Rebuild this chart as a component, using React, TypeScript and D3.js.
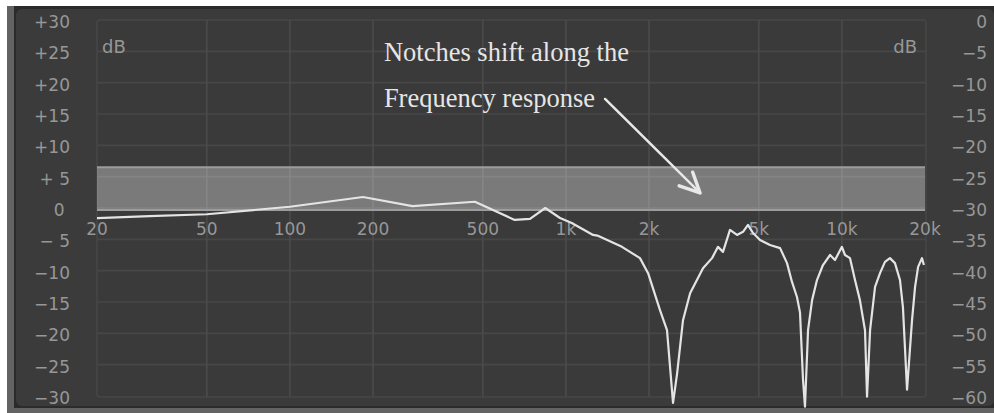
import React from "react";
import * as d3 from "d3";

// frequency response (Hz, left-axis dB)
const freqs = [
  20, 31, 50, 100, 184, 278, 468, 652, 741, 842, 952, 1050, 1254, 1300, 1596, 1855, 1985,
  2192, 2324, 2444, 2527, 2656, 2818, 3138, 3384, 3556, 3708, 3930, 4168, 4382, 4568, 4764,
  5050, 5488, 5970, 6325, 6594, 6873, 7050, 7228, 7348, 7538, 7798, 8122, 8538, 9058, 9440,
  10000, 10258, 10698, 11154, 11620, 12124, 12332, 12648, 13184, 13742, 14322, 14930, 15566,
  16234, 16636, 17218, 17950, 18410, 18882, 19500, 19820,
];
const gains = [
  -1.6, -1.3, -1.0, 0.2, 1.75, 0.3, 1.0, -1.9, -1.75, 0.0, -1.6, -2.4, -4.3, -4.4, -6.2, -8.0, -10.4,
  -16.3, -19.5, -31.1, -26.5, -17.9, -13.6, -9.6, -8.0, -6.2, -7.0, -3.5, -4.3, -3.8, -2.7, -4.0,
  -5.1, -5.9, -6.4, -8.8, -11.8, -14.2, -16.7, -27.4, -31.7, -19.5, -14.7, -11.5, -9.1, -7.5, -8.3,
  -6.2, -7.5, -8.0, -11.5, -14.7, -19.5, -30.1, -19.5, -12.6, -10.4, -8.6, -8.0, -8.8,
  -11.5, -15.8, -29.0, -17.9, -12.6, -9.4, -8.0, -9.1,
];

const xTicks = [20, 50, 100, 200, 500, 1000, 2000, 5000, 10000, 20000];
const xTickLabels = ["20", "50", "100", "200", "500", "1k", "2k", "5k", "10k", "20k"];
const leftTicks = [30, 25, 20, 15, 10, 5, 0, -5, -10, -15, -20, -25, -30];
const leftTickLabels = ["+30", "+25", "+20", "+15", "+10", "+ 5", "0 ", "\u2212 5", "\u221210", "\u221215", "\u221220", "\u221225", "\u221230"];
const rightTicks = [0, -5, -10, -15, -20, -25, -30, -35, -40, -45, -50, -55, -60];
const rightTickLabels = ["0", "\u22125", "\u221210", "\u221215", "\u221220", "\u221225", "\u221230", "\u221235", "\u221240", "\u221245", "\u221250", "\u221255", "\u221260"];

// highlighted band (left-axis dB)
const band = [-0.3, 6.5];

// annotation, in data space
const noteLines = ["Notches shift along the", "Frequency response"];
const noteFreq = 219;
const noteDb = [23.4, 16.1];
const arrowFrom = [1386, 17.4];
const arrowTo = [3062, 2.4];

const W = 994;
const H = 413;
const plot = { left: 97, right: 926, top: 20, bottom: 397 };

export default function App() {
  const x = d3.scaleLog().domain([20, 20000]).range([97, 925]);
  const yL = d3.scaleLinear().domain([-30, 30]).range([396, 20]);
  const yR = d3.scaleLinear().domain([-60, 0]).range([396, 20]);

  const pts = freqs.map((f, i) => [f, gains[i]] as [number, number]);
  const line = d3
    .line<[number, number]>()
    .x((d) => x(d[0]))
    .y((d) => yL(d[1]));

  const axisFont = "'DejaVu Sans', sans-serif";
  const labelColor = "#979797";

  // arrow head
  const ax1 = x(arrowFrom[0]), ay1 = yL(arrowFrom[1]);
  const ax2 = x(arrowTo[0]), ay2 = yL(arrowTo[1]);
  const ang = Math.atan2(ay2 - ay1, ax2 - ax1);
  const headLen = 22;
  const spread = 0.45;
  const h1 = [ax2 - headLen * Math.cos(ang - spread), ay2 - headLen * Math.sin(ang - spread)];
  const h2 = [ax2 - headLen * Math.cos(ang + spread), ay2 - headLen * Math.sin(ang + spread)];

  return (
    <svg width={W} height={H} style={{ position: "absolute", left: 0, top: 0, background: "#fff" }}>
      {/* frame */}
      <rect x={7} y={6} width={987} height={407} fill="#636363" />
      <rect x={14} y={6} width={980} height={402} fill="#2b2b2b" />
      <rect x={16} y={9} width={978} height={397} rx={6} fill="#3b3b3b" />

      {/* plot area */}
      <rect
        x={plot.left}
        y={plot.top}
        width={plot.right - plot.left}
        height={plot.bottom - plot.top}
        rx={3}
        fill="#3a3a3a"
        stroke="#474747"
        strokeWidth={1.5}
      />
      {leftTicks
        .filter((t) => t > -30 && t < 30)
        .map((t) => (
          <line key={"h" + t} x1={plot.left} x2={plot.right} y1={yL(t)} y2={yL(t)} stroke="#474747" strokeWidth={1.6} />
        ))}
      {xTicks.slice(1, -1).map((f) => (
        <line key={"v" + f} x1={x(f)} x2={x(f)} y1={plot.top} y2={plot.bottom} stroke="#4b4b4b" strokeWidth={1.6} />
      ))}

      {/* band */}
      <rect
        x={plot.left}
        y={yL(band[1])}
        width={x(20000) - plot.left}
        height={yL(band[0]) - yL(band[1])}
        fill="#ffffff"
        fillOpacity={0.33}
      />
      <line x1={plot.left} x2={x(20000)} y1={yL(band[1])} y2={yL(band[1])} stroke="#9c9c9c" strokeWidth={2} />
      <line x1={plot.left} x2={x(20000)} y1={yL(band[0])} y2={yL(band[0])} stroke="#9c9c9c" strokeWidth={2} />

      {/* x labels */}
      {xTicks.map((f, i) => (
        <text key={"xl" + f} x={x(f)} y={yL(0) + 27} textAnchor="middle" fontFamily={axisFont} fontSize={17} fill={labelColor}>
          {xTickLabels[i]}
        </text>
      ))}

      {/* response curve */}
      <path d={line(pts) || ""} fill="none" stroke="#e4e4e4" strokeWidth={2.2} strokeLinejoin="round" />

      {/* left axis */}
      {leftTicks.map((t, i) => (
        <text
          key={"l" + t}
          x={70}
          y={yL(t) + 8}
          textAnchor="end"
          fontFamily={axisFont}
          fontSize={17}
          fill={labelColor}
          style={{ whiteSpace: "pre" }}
        >
          {leftTickLabels[i]}
        </text>
      ))}
      {/* right axis */}
      {rightTicks.map((t, i) => (
        <text key={"r" + t} x={987} y={yR(t) + 8} textAnchor="end" fontFamily={axisFont} fontSize={17} fill={labelColor}>
          {rightTickLabels[i]}
        </text>
      ))}

      <text x={102} y={53} fontFamily={axisFont} fontSize={18} fill={labelColor}>dB</text>
      <text x={917} y={53} textAnchor="end" fontFamily={axisFont} fontSize={18} fill={labelColor}>dB</text>

      {/* annotation */}
      {noteLines.map((s, i) => (
        <text key={"n" + i} x={x(noteFreq)} y={yL(noteDb[i])} fontFamily="'Liberation Serif', 'Times New Roman', serif" fontSize={26.5} fill="#e6e6e6">
          {s}
        </text>
      ))}
      <line x1={ax1} y1={ay1} x2={ax2} y2={ay2} stroke="#e8e8e8" strokeWidth={2.5} strokeLinecap="round" />
      <polyline
        points={`${h1[0]},${h1[1]} ${ax2},${ay2} ${h2[0]},${h2[1]}`}
        fill="none"
        stroke="#e8e8e8"
        strokeWidth={3.5}
        strokeLinecap="round"
        strokeLinejoin="round"
      />
    </svg>
  );
}
